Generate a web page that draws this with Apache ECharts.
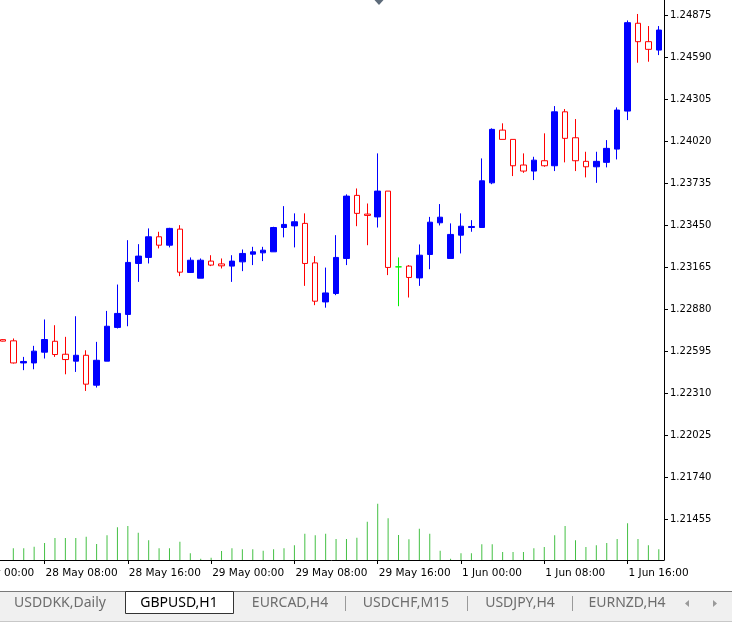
<!DOCTYPE html>
<html>
<head>
<meta charset="utf-8">
<script src="https://cdn.jsdelivr.net/npm/echarts@6/dist/echarts.min.js"></script>
<style>
html,body{margin:0;padding:0;background:#fff;}
#chart{width:732px;height:627px;}
</style>
</head>
<body>
<div id="chart"></div>
<script>
// ---- data (GBPUSD, H1) ----
const days = ['28 May', '29 May', '1 Jun'];
const barsPerDay = [24, 24, 20];
const firstBar = 4; // first bar on screen is 28 May 04:00

const opens = [
1.22672,
1.22664,1.22514,1.22514,1.22587,1.22661,1.22573,1.22526,1.22566,1.22363,1.22526,
1.22755,1.22843,1.23189,1.23230,1.23370,1.23313,1.23422,1.23128,1.23089,1.23205,
1.23186,1.23171,1.23200,1.23252,1.23261,1.23268,1.23433,1.23444,1.23461,1.23193,
1.22928,1.22985,1.23223,1.23651,1.23524,1.23505,1.23680,1.23166,1.23171,1.23091,
1.23250,1.23465,1.23223,1.23381,1.23433,1.23433,1.23736,1.24094,1.24031,1.23857,
1.23816,1.23886,1.23852,1.24218,1.24042,1.23882,1.23845,1.23875,1.23965,1.24223,
1.24819,1.24694,1.24637
];
const closes = [
1.22662,
1.22514,1.22524,1.22594,1.22673,1.22571,1.22537,1.22566,1.22370,1.22532,1.22763,
1.22850,1.23196,1.23239,1.23370,1.23313,1.23427,1.23130,1.23211,1.23211,1.23178,
1.23173,1.23205,1.23257,1.23268,1.23279,1.23433,1.23454,1.23472,1.23189,1.22933,
1.22989,1.23230,1.23646,1.23529,1.23515,1.23680,1.23162,1.23166,1.23094,1.23245,
1.23469,1.23503,1.23386,1.23442,1.23440,1.23750,1.24099,1.24031,1.23852,1.23816,
1.23890,1.23852,1.24218,1.24038,1.23886,1.23845,1.23882,1.23970,1.24230,1.24823,
1.24694,1.24642,1.24773
];
const highs = [
1.22675,
1.22680,1.22555,1.22630,1.22809,1.22770,1.22691,1.22831,1.22600,1.22657,1.22867,
1.23046,1.23347,1.23320,1.23427,1.23404,1.23431,1.23449,1.23230,1.23223,1.23245,
1.23223,1.23245,1.23284,1.23302,1.23302,1.23438,1.23578,1.23529,1.23529,1.23239,
1.23161,1.23381,1.23658,1.23698,1.23596,1.23936,1.23680,1.23230,1.23178,1.23318,
1.23505,1.23592,1.23461,1.23529,1.23483,1.23902,1.24106,1.24140,1.24031,1.23936,
1.23913,1.24072,1.24257,1.24237,1.24169,1.23947,1.23947,1.24026,1.24248,1.24838,
1.24882,1.24800,1.24800
];
const lows = [
1.22660,
1.22510,1.22465,1.22471,1.22544,1.22555,1.22437,1.22453,1.22324,1.22347,1.22526,
1.22748,1.22763,1.23064,1.23189,1.23291,1.23298,1.23103,1.23125,1.23089,1.23171,
1.23155,1.23064,1.23137,1.23178,1.23205,1.23268,1.23366,1.23298,1.23037,1.22906,
1.22889,1.22974,1.23178,1.23442,1.23313,1.23433,1.23110,1.22899,1.22958,1.23037,
1.23150,1.23447,1.23223,1.23257,1.23404,1.23431,1.23727,1.24031,1.23782,1.23804,
1.23755,1.23845,1.23816,1.23875,1.23816,1.23773,1.23736,1.23841,1.23895,1.24162,
1.24551,1.24558,1.24603
];
const volumes = [
null,
585,585,665,850,1100,1100,1100,1165,800,1235,
1635,1700,1365,985,585,585,915,335,65,115,
450,585,535,535,465,535,585,735,1315,1235,
1315,1050,1050,1115,1915,2815,2085,1250,1035,1565,
1315,465,65,335,335,785,785,400,400,400,
585,650,1235,1700,985,650,735,850,1050,1835,
1050,735,535
];
const priceTicks = [1.21455,1.21740,1.22025,1.22310,1.22595,1.22880,1.23165,1.23450,1.23735,1.24020,1.24305,1.24590,1.24875];
const tabNames = ['USDDKK,Daily','GBPUSD,H1','EURCAD,H4','USDCHF,M15','USDJPY,H4','EURNZD,H4'];
const activeTab = 'GBPUSD,H1';

// ---- build ----
const pad = n => (n < 10 ? '0' : '') + n;
const categories = [];
days.forEach((d, di) => { for (let h = 0; h < barsPerDay[di]; h++) categories.push(d + ' ' + pad(h) + ':00'); });

const candleData = categories.map((c, i) => {
  const k = i - firstBar;
  if (k < 0 || k >= opens.length) return '-';
  const item = { value: [opens[k], closes[k], lows[k], highs[k]] };
  if (opens[k] === closes[k]) item.itemStyle = { color: '#00ee00', borderColor: '#00ee00', borderColor0: '#00ee00', color0: '#00ee00' };
  return item;
});
const volData = categories.map((c, i) => {
  const k = i - firstBar;
  if (k < 0 || k >= volumes.length || volumes[k] == null) return '-';
  return volumes[k];
});
const showLabel = (idx, val) => /(00|08|16):00$/.test(val);

const LEFT = -43.94, RIGHTPX = 68;
const chart = echarts.init(document.getElementById('chart'), null, { renderer: 'canvas' });

// tab layout
const tabCenters = [60, 179, 290, 406, 520, 627];
const tabGraphics = [];
tabGraphics.push({ type: 'rect', shape: { x: 0, y: 591, width: 732, height: 30 }, style: { fill: '#f0f0f0' }, silent: true });
tabGraphics.push({ type: 'line', shape: { x1: 0, y1: 591.5, x2: 732, y2: 591.5 }, style: { stroke: '#7a7a7a', lineWidth: 1 }, silent: true });
tabGraphics.push({ type: 'line', shape: { x1: 0, y1: 621.5, x2: 732, y2: 621.5 }, style: { stroke: '#c8c8c8', lineWidth: 1 }, silent: true });
tabGraphics.push({ type: 'rect', shape: { x: 125.5, y: 591.5, width: 108, height: 22 }, style: { fill: '#ffffff', stroke: '#333333', lineWidth: 1 }, silent: true });
tabNames.forEach((t, i) => {
  tabGraphics.push({ type: 'text', x: tabCenters[i], y: 603.5, style: { text: t, fill: t === activeTab ? '#000000' : '#6d6d6d', font: '14px "Noto Sans"', textAlign: 'center', textVerticalAlign: 'middle' }, silent: true });
});
[345, 467, 572].forEach(x => {
  tabGraphics.push({ type: 'line', shape: { x1: x + 0.5, y1: 596, x2: x + 0.5, y2: 611 }, style: { stroke: '#9a9a9a', lineWidth: 1 }, silent: true });
});
tabGraphics.push({ type: 'polygon', shape: { points: [[689, 600], [689, 607], [685, 603.5]] }, style: { fill: '#9a9a9a' }, silent: true });
tabGraphics.push({ type: 'polygon', shape: { points: [[713, 600], [713, 607], [717, 603.5]] }, style: { fill: '#9a9a9a' }, silent: true });
tabGraphics.push({ type: 'polygon', shape: { points: [[374.5, 0], [383.5, 0], [379, 5]] }, style: { fill: '#5d6b7a' }, silent: true });

chart.setOption({
  animation: false,
  backgroundColor: '#ffffff',
  grid: [
    { left: LEFT, right: RIGHTPX, top: 0, bottom: 67, containLabel: false, outerBoundsMode: 'none' },
    { left: LEFT, right: RIGHTPX, bottom: 67, height: 60, containLabel: false, outerBoundsMode: 'none' }
  ],
  xAxis: [
    {
      type: 'category', gridIndex: 0, data: categories, boundaryGap: true,
      axisLine: { show: true, lineStyle: { color: '#000', width: 1 } },
      axisTick: { show: true, alignWithLabel: true, interval: showLabel, length: 4, lineStyle: { color: '#000' } },
      axisLabel: { interval: showLabel, align: 'left', color: '#000', fontFamily: 'DejaVu Sans', fontSize: 10.5, margin: 8, padding: [0, 0, 0, 1] },
      splitLine: { show: false }
    },
    { type: 'category', gridIndex: 1, data: categories, boundaryGap: true, show: false }
  ],
  yAxis: [
    {
      type: 'value', gridIndex: 0, position: 'right', min: 1.211768, max: 1.249768,
      axisLine: { show: true, lineStyle: { color: '#000', width: 1 } },
      axisTick: { show: true, length: 4, customValues: priceTicks, lineStyle: { color: '#000' } },
      axisLabel: { customValues: priceTicks, formatter: v => v.toFixed(5), color: '#000', fontFamily: 'DejaVu Sans', fontSize: 10, margin: 6 },
      splitLine: { show: false }
    },
    { type: 'value', gridIndex: 1, min: 0, max: 3000, show: false, splitLine: { show: false } }
  ],
  series: [
    {
      type: 'candlestick', xAxisIndex: 0, yAxisIndex: 0, data: candleData, barWidth: 6,
      itemStyle: { color: '#0000ff', color0: '#ffffff', borderColor: '#0000ff', borderColor0: '#ff0000', borderWidth: 1 }
    },
    {
      type: 'bar', xAxisIndex: 1, yAxisIndex: 1, data: volData, barWidth: 1,
      itemStyle: { color: '#44c044' }
    }
  ],
  graphic: tabGraphics
});
</script>
</body>
</html>
